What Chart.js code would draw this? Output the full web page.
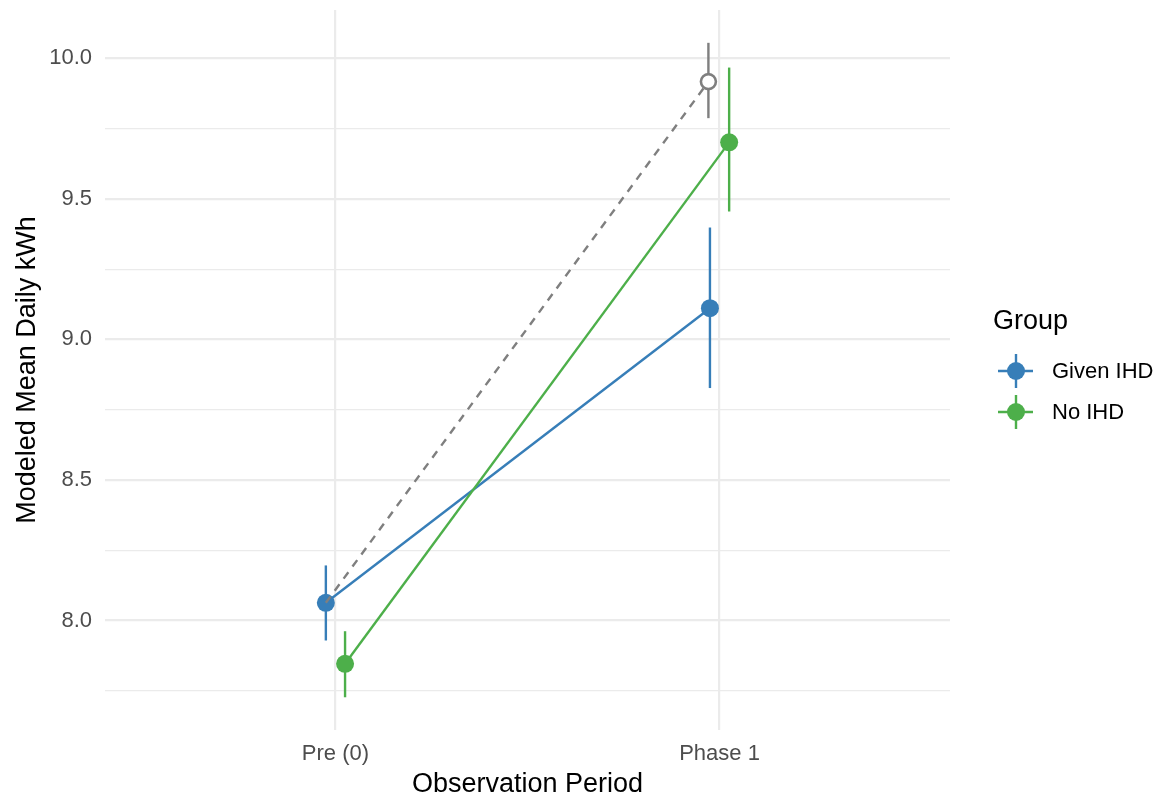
<!DOCTYPE html>
<html>
<head>
<meta charset="utf-8">
<script src="https://cdn.jsdelivr.net/npm/chart.js@4.4.1/dist/chart.umd.min.js"></script>
<style>
  html, body { margin: 0; padding: 0; background: #ffffff; }
  #wrap { width: 1166px; height: 801px; position: relative; }
</style>
</head>
<body>
<div id="wrap"><canvas id="c" width="1166" height="801"></canvas></div>
<script>
// ---- data ----
const categories = ['Pre (0)', 'Phase 1'];
const groupNames = ['Given IHD', 'No IHD'];
const givenMean = [8.063, 9.111];
const givenLow  = [7.929, 8.827];
const givenHigh = [8.196, 9.398];
const noMean = [7.846, 9.701];
const noLow  = [7.727, 9.455];
const noHigh = [7.962, 9.967];
const cfMean = [8.063, 9.917];
const cfLow  = [null, 9.787];
const cfHigh = [null, 10.055];
const yMajorTicks = [8.0, 8.5, 9.0, 9.5, 10.0];
const yMinorTicks = [7.75, 8.25, 8.75, 9.25, 9.75];

// ---- styling ----
const BLUE = '#377EB8', GREEN = '#4DAF4A', GREY = '#7F7F7F';
const FONT = "'Liberation Sans', Arial, Helvetica, sans-serif";
const dodge = { given: -0.025, no: 0.025, cf: -0.029 };
const LW = 2.4, PR = 9;

function pts(means, off) {
  return means.map((m, i) => ({ x: i + 1 + off, y: m }));
}
const allVals = [].concat(givenLow, givenHigh, noLow, noHigh, cfLow, cfHigh).filter(v => v != null);
const yLo = Math.min(...allVals), yHi = Math.max(...allVals);
const ySpan = yHi - yLo;
const yMin = yLo - 0.05 * ySpan, yMax = yHi + 0.05 * ySpan;

const errorSets = [
  { means: givenMean, lo: givenLow, hi: givenHigh, off: dodge.given, color: BLUE },
  { means: noMean, lo: noLow, hi: noHigh, off: dodge.no, color: GREEN },
  { means: cfMean, lo: cfLow, hi: cfHigh, off: dodge.cf, color: GREY }
];

const errorBarPlugin = {
  id: 'errbars',
  beforeDatasetsDraw(chart) {
    const { ctx, scales: { x, y } } = chart;
    ctx.save();
    ctx.lineWidth = LW;
    ctx.lineCap = 'butt';
    errorSets.forEach(s => {
      s.means.forEach((m, i) => {
        if (s.lo[i] == null) return;
        const px = x.getPixelForValue(i + 1 + s.off);
        ctx.strokeStyle = s.color;
        ctx.beginPath();
        ctx.moveTo(px, y.getPixelForValue(s.lo[i]));
        ctx.lineTo(px, y.getPixelForValue(s.hi[i]));
        ctx.stroke();
      });
    });
    ctx.restore();
  }
};

const legendPlugin = {
  id: 'ggLegend',
  afterDraw(chart) {
    const ctx = chart.ctx;
    ctx.save();
    ctx.fillStyle = '#000000';
    ctx.textBaseline = 'middle';
    ctx.textAlign = 'left';
    ctx.font = '27px ' + FONT;
    ctx.fillText('Group', 993, 322);
    const colors = [BLUE, GREEN];
    const ys = [371, 412];
    groupNames.forEach((name, i) => {
      const cx = 1016, cy = ys[i];
      ctx.strokeStyle = colors[i];
      ctx.lineWidth = LW;
      ctx.beginPath();
      ctx.moveTo(998, cy); ctx.lineTo(1033, cy);
      ctx.moveTo(cx, cy - 17); ctx.lineTo(cx, cy + 17);
      ctx.stroke();
      ctx.fillStyle = colors[i];
      ctx.beginPath();
      ctx.arc(cx, cy, PR, 0, Math.PI * 2);
      ctx.fill();
      ctx.fillStyle = '#000000';
      ctx.font = '22px ' + FONT;
      ctx.fillText(name, 1052, cy + 1);
    });
    ctx.restore();
  }
};

new Chart(document.getElementById('c'), {
  type: 'scatter',
  data: {
    datasets: [
      {
        label: groupNames[0],
        data: pts(givenMean, dodge.given),
        showLine: true,
        borderColor: BLUE,
        backgroundColor: BLUE,
        borderWidth: LW,
        pointRadius: PR,
        pointBorderWidth: 0,
        pointHoverRadius: PR,
        order: 3
      },
      {
        label: groupNames[1],
        data: pts(noMean, dodge.no),
        showLine: true,
        borderColor: GREEN,
        backgroundColor: GREEN,
        borderWidth: LW,
        pointRadius: PR,
        pointBorderWidth: 0,
        pointHoverRadius: PR,
        order: 2
      },
      {
        label: 'Counterfactual',
        data: cfMean.map((m, i) => ({ x: i + 1 + (i === 0 ? dodge.given : dodge.cf), y: m })),
        showLine: true,
        borderColor: GREY,
        borderDash: [8, 7],
        borderWidth: LW,
        pointRadius: [0, 7.5],
        pointBorderWidth: 2.6,
        pointBorderColor: GREY,
        pointBackgroundColor: '#ffffff',
        pointHoverRadius: [0, 7.5],
        order: 1
      }
    ]
  },
  options: {
    responsive: false,
    animation: false,
    events: [],
    layout: { padding: { left: 0, right: 216, top: 10, bottom: 0 } },
    plugins: { legend: { display: false }, tooltip: { enabled: false } },
    scales: {
      x: {
        type: 'linear',
        min: 0.4,
        max: 2.6,
        afterBuildTicks(scale) { scale.ticks = categories.map((c, i) => ({ value: i + 1 })); },
        afterFit(scale) { scale.height = 71; scale.paddingLeft = 0; scale.paddingRight = 0; },
        ticks: {
          callback(v) { return categories[Math.round(v) - 1] || ''; },
          color: '#4D4D4D',
          font: { family: FONT, size: 22 },
          padding: 11,
          maxRotation: 0,
          autoSkip: false
        },
        grid: { color: '#EBEBEB', lineWidth: 2.2, drawTicks: false },
        border: { display: false },
        title: {
          display: true,
          text: 'Observation Period',
          color: '#000000',
          font: { family: FONT, size: 27, lineHeight: 1.2 },
          padding: { top: 0, bottom: 0 }
        }
      },
      y: {
        type: 'linear',
        min: yMin,
        max: yMax,
        afterBuildTicks(scale) {
          scale.ticks = yMinorTicks.concat(yMajorTicks).sort((a, b) => a - b).map(v => ({ value: v }));
        },
        afterFit(scale) { scale.width = 105; scale.paddingTop = 0; scale.paddingBottom = 0; },
        ticks: {
          callback(v) { return yMajorTicks.includes(v) ? v.toFixed(1) : ''; },
          color: '#4D4D4D',
          font: { family: FONT, size: 22 },
          padding: 13,
          autoSkip: false
        },
        grid: {
          color: '#EBEBEB',
          lineWidth(ctx) { return yMajorTicks.includes(ctx.tick && ctx.tick.value) ? 2.2 : 1.2; },
          drawTicks: false
        },
        border: { display: false },
        title: {
          display: true,
          text: 'Modeled Mean Daily kWh',
          color: '#000000',
          font: { family: FONT, size: 27, lineHeight: 1.2 },
          padding: { top: 11, bottom: 0 }
        }
      }
    }
  },
  plugins: [errorBarPlugin, legendPlugin]
});
</script>
</body>
</html>
